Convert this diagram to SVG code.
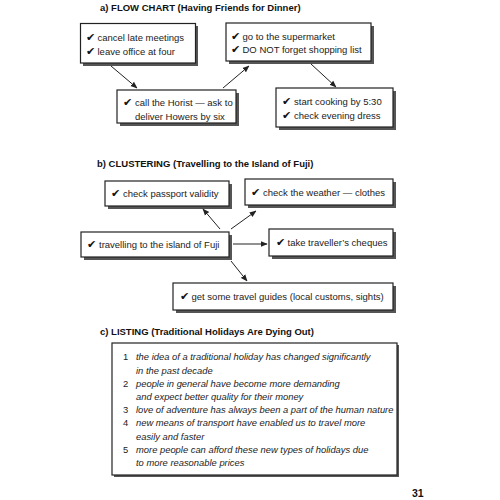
<svg xmlns="http://www.w3.org/2000/svg" width="500" height="500" viewBox="0 0 500 500">
<style>
.t{font-family:"Liberation Sans",Arial,sans-serif;font-size:9.5px;fill:#222}
.h{font-family:"Liberation Sans",Arial,sans-serif;font-size:9.5px;font-weight:bold;fill:#111}
.i{font-family:"Liberation Sans",Arial,sans-serif;font-size:9.4px;font-style:italic;fill:#222}
.n{font-family:"Liberation Sans",Arial,sans-serif;font-size:9.4px;fill:#222}
.ck{font-family:"DejaVu Sans",sans-serif;font-size:11px;fill:#111}
.box{fill:#fff;stroke:#222;stroke-width:1.2}
.sh{fill:#555}
.c{stroke:#222;stroke-width:1;fill:none;marker-end:url(#a)}
</style>
<defs>
<marker id="a" viewBox="0 0 10 10" refX="9" refY="5" markerWidth="7" markerHeight="7" orient="auto" markerUnits="userSpaceOnUse">
<path d="M0,1 L10,5 L0,9 z" fill="#222"/>
</marker>
</defs>
<rect width="500" height="500" fill="#fff"/>

<text class="h" x="100" y="11">a) FLOW CHART (Having Friends for Dinner)</text>

<g id="n1">
<rect class="sh" x="83" y="26" width="115" height="40"/>
<rect class="box" x="80.5" y="23.5" width="115" height="39.5"/>
<text class="ck" x="86" y="41">✔</text><text class="t" x="97.5" y="41">cancel late meetings</text>
<text class="ck" x="86" y="55">✔</text><text class="t" x="97.5" y="55">leave office at four</text>
</g>
<g id="n2">
<rect class="sh" x="229" y="26" width="145" height="38"/>
<rect class="box" x="226" y="23" width="145" height="38"/>
<text class="ck" x="231" y="40">✔</text><text class="t" x="242.5" y="40">go to the supermarket</text>
<text class="ck" x="231" y="53">✔</text><text class="t" x="242.5" y="53">DO NOT forget shopping list</text>
</g>
<g id="n3">
<rect class="sh" x="120" y="93" width="119" height="33"/>
<rect class="box" x="117" y="90" width="119" height="33"/>
<text class="ck" x="123" y="106">✔</text><text class="t" x="135" y="106">call the Horist — ask to</text>
<text class="t" x="135" y="120">deliver Howers by six</text>
</g>
<g id="n4">
<rect class="sh" x="279" y="91" width="117" height="39"/>
<rect class="box" x="276" y="88" width="117" height="39"/>
<text class="ck" x="282" y="105">✔</text><text class="t" x="294" y="105">start cooking by 5:30</text>
<text class="ck" x="282" y="119">✔</text><text class="t" x="294" y="119">check evening dress</text>
</g>

<text class="h" x="97" y="167">b) CLUSTERING (Travelling to the Island of Fuji)</text>

<g id="n5">
<rect class="sh" x="108" y="184" width="124" height="25"/>
<rect class="box" x="105" y="181" width="124" height="25"/>
<text class="ck" x="111" y="197">✔</text><text class="t" x="123" y="197">check passport validity</text>
</g>
<g id="n6">
<rect class="sh" x="248" y="182" width="148" height="26"/>
<rect class="box" x="245" y="179" width="148" height="26"/>
<text class="ck" x="251" y="196">✔</text><text class="t" x="263" y="196">check the weather — clothes</text>
</g>
<g id="n7">
<rect class="sh" x="84" y="235" width="148" height="25"/>
<rect class="box" x="81" y="232" width="148" height="25"/>
<text class="ck" x="87" y="248">✔</text><text class="t" x="99" y="248">travelling to the island of Fuji</text>
</g>
<g id="n8">
<rect class="sh" x="272" y="232" width="124" height="27"/>
<rect class="box" x="269" y="229" width="124" height="27"/>
<text class="ck" x="276" y="246">✔</text><text class="t" x="287.5" y="246">take traveller’s cheques</text>
</g>
<g id="n9">
<rect class="sh" x="176" y="286" width="220" height="27"/>
<rect class="box" x="173" y="283" width="220" height="27"/>
<text class="ck" x="180" y="300">✔</text><text class="t" x="191.5" y="300">get some travel guides (local customs, sights)</text>
</g>

<g id="connectors">
<line class="c" x1="111" y1="66" x2="137" y2="88"/>
<line class="c" x1="223" y1="88" x2="249" y2="66"/>
<line class="c" x1="311" y1="64" x2="336" y2="87"/>
<line class="c" x1="220" y1="229" x2="203" y2="209"/>
<line class="c" x1="231" y1="229" x2="256" y2="211"/>
<line class="c" x1="233" y1="244" x2="267" y2="244"/>
<line class="c" x1="231" y1="261" x2="247" y2="281"/>
</g>

<text class="h" x="100" y="335">c) LISTING (Traditional Holidays Are Dying Out)</text>

<g id="list">
<rect class="sh" x="114" y="345" width="285" height="132"/>
<rect class="box" x="112" y="343" width="285" height="132"/>
<text class="n" x="123" y="360">1</text><text class="i" x="136" y="360">the idea of a traditional holiday has changed significantly</text>
<text class="i" x="136" y="374">in the past decade</text>
<text class="n" x="123" y="387">2</text><text class="i" x="136" y="387">people in general have become more demanding</text>
<text class="i" x="136" y="400">and expect better quality for their money</text>
<text class="n" x="123" y="413">3</text><text class="i" x="136" y="413">love of adventure has always been a part of the human nature</text>
<text class="n" x="123" y="426">4</text><text class="i" x="136" y="426">new means of transport have enabled us to travel more</text>
<text class="i" x="136" y="440">easily and faster</text>
<text class="n" x="123" y="453">5</text><text class="i" x="136" y="453">more people can afford these new types of holidays due</text>
<text class="i" x="136" y="466">to more reasonable prices</text>
</g>

<text class="h" x="412" y="497" style="font-size:10.5px">31</text>
</svg>
